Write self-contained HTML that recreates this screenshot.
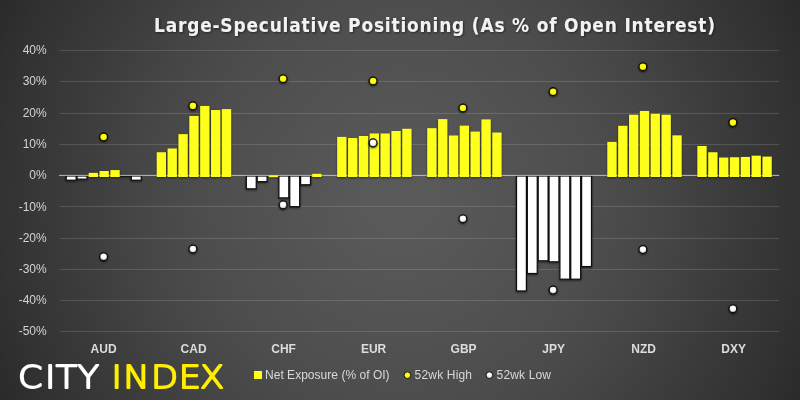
<!DOCTYPE html>
<html lang="en"><head><meta charset="utf-8"><title>Large-Speculative Positioning</title>
<style>
html,body{margin:0;padding:0;background:#2a2a2a;}
body{width:800px;height:400px;overflow:hidden;}
svg{display:block;}
text{font-family:"Liberation Sans","DejaVu Sans",sans-serif;}
.ax{font-size:12px;fill:#d4d4d4;}
.cat{font-size:12px;font-weight:bold;fill:#dcdcdc;}
.lg{font-size:12px;fill:#d9d9d9;}
.ttl{font-family:"DejaVu Sans Condensed","DejaVu Sans","Liberation Sans",sans-serif;font-weight:bold;font-size:18.9px;fill:#f2f2f2;}
.logo{font-family:"DejaVu Sans Light","DejaVu Sans","Liberation Sans",sans-serif;font-weight:200;font-size:32.6px;stroke-linejoin:round;stroke-linecap:round;}
</style></head><body>
<svg width="800" height="400" viewBox="0 0 800 400">
<defs>
<radialGradient id="bg" gradientUnits="userSpaceOnUse" cx="400" cy="200" r="447.2">
<stop offset="0" stop-color="#595959"/>
<stop offset="0.08" stop-color="#595959"/>
<stop offset="0.447" stop-color="#4d4d4d"/>
<stop offset="0.58" stop-color="#464646"/>
<stop offset="0.76" stop-color="#3a3a3a"/>
<stop offset="0.895" stop-color="#323232"/>
<stop offset="1" stop-color="#2a2a2a"/>
</radialGradient>
<radialGradient id="wd" cx="0.5" cy="0.42" r="0.55">
<stop offset="0" stop-color="#ffffff"/><stop offset="0.45" stop-color="#ffffff"/><stop offset="1" stop-color="#b4b4b4"/>
</radialGradient>
<radialGradient id="yd" cx="0.5" cy="0.45" r="0.55">
<stop offset="0" stop-color="#ffff40"/><stop offset="0.5" stop-color="#fbfb10"/><stop offset="1" stop-color="#cfcf00"/>
</radialGradient>
<filter id="sh" x="-20%" y="-20%" width="140%" height="140%">
<feGaussianBlur in="SourceAlpha" stdDeviation="1"/>
<feOffset dx="0.4" dy="0.6"/>
<feComponentTransfer><feFuncA type="linear" slope="0.55"/></feComponentTransfer>
<feMerge><feMergeNode/><feMergeNode in="SourceGraphic"/></feMerge>
</filter>
<filter id="tsh" x="-5%" y="-30%" width="110%" height="160%">
<feGaussianBlur in="SourceAlpha" stdDeviation="0.9"/>
<feOffset dx="0.5" dy="0.8"/>
<feComponentTransfer><feFuncA type="linear" slope="0.5"/></feComponentTransfer>
<feMerge><feMergeNode/><feMergeNode in="SourceGraphic"/></feMerge>
</filter>
</defs>
<rect width="800" height="400" fill="url(#bg)"/>

<g stroke="#ffffff" stroke-opacity="0.15" stroke-width="1">
<line x1="59.3" y1="331.45" x2="779.2" y2="331.45"/>
<line x1="59.3" y1="300.45" x2="779.2" y2="300.45"/>
<line x1="59.3" y1="269.45" x2="779.2" y2="269.45"/>
<line x1="59.3" y1="238.45" x2="779.2" y2="238.45"/>
<line x1="59.3" y1="206.45" x2="779.2" y2="206.45"/>
<line x1="59.3" y1="144.45" x2="779.2" y2="144.45"/>
<line x1="59.3" y1="113.45" x2="779.2" y2="113.45"/>
<line x1="59.3" y1="81.45" x2="779.2" y2="81.45"/>
<line x1="59.3" y1="50.45" x2="779.2" y2="50.45"/>
</g>
<g filter="url(#sh)" fill="#ffffff" stroke="#111111" stroke-width="1.25">
<rect x="66.25" y="176.00" width="9.90" height="4.23"/>
<rect x="77.10" y="176.00" width="9.90" height="3.14"/>
<rect x="120.50" y="176.00" width="9.90" height="0.33"/>
<rect x="131.35" y="176.00" width="9.90" height="4.23"/>
<rect x="246.35" y="176.00" width="9.90" height="12.83"/>
<rect x="257.20" y="176.00" width="9.90" height="5.64"/>
<rect x="278.90" y="176.00" width="9.90" height="21.90"/>
<rect x="289.75" y="176.00" width="9.90" height="30.66"/>
<rect x="300.60" y="176.00" width="9.90" height="8.77"/>
<rect x="516.50" y="176.00" width="9.90" height="114.96"/>
<rect x="527.35" y="176.00" width="9.90" height="97.51"/>
<rect x="538.20" y="176.00" width="9.90" height="84.82"/>
<rect x="549.05" y="176.00" width="9.90" height="85.82"/>
<rect x="559.90" y="176.00" width="9.90" height="103.20"/>
<rect x="570.75" y="176.00" width="9.90" height="103.20"/>
<rect x="581.60" y="176.00" width="9.90" height="90.57"/>
</g>
<line x1="59.0" y1="175.40" x2="779.2" y2="175.40" stroke="#c8c8c8" stroke-width="0.9"/>
<g filter="url(#sh)" fill="#ffff1e">
<rect x="88.75" y="172.90" width="9.2" height="4.10"/>
<rect x="99.60" y="171.02" width="9.2" height="5.98"/>
<rect x="110.45" y="170.08" width="9.2" height="6.92"/>
<rect x="156.80" y="152.26" width="9.2" height="24.74"/>
<rect x="167.65" y="148.51" width="9.2" height="28.49"/>
<rect x="178.50" y="134.12" width="9.2" height="42.88"/>
<rect x="189.35" y="115.99" width="9.2" height="61.01"/>
<rect x="200.20" y="105.98" width="9.2" height="71.02"/>
<rect x="211.05" y="110.05" width="9.2" height="66.95"/>
<rect x="221.90" y="109.11" width="9.2" height="67.89"/>
<rect x="268.85" y="175.40" width="9.2" height="1.65"/>
<rect x="312.25" y="173.84" width="9.2" height="3.16"/>
<rect x="337.20" y="136.94" width="9.2" height="40.06"/>
<rect x="348.05" y="138.03" width="9.2" height="38.97"/>
<rect x="358.90" y="136.00" width="9.2" height="41.00"/>
<rect x="369.75" y="133.50" width="9.2" height="43.50"/>
<rect x="380.60" y="133.50" width="9.2" height="43.50"/>
<rect x="391.45" y="131.00" width="9.2" height="46.00"/>
<rect x="402.30" y="128.81" width="9.2" height="48.19"/>
<rect x="427.25" y="128.18" width="9.2" height="48.82"/>
<rect x="438.10" y="119.11" width="9.2" height="57.89"/>
<rect x="448.95" y="135.53" width="9.2" height="41.47"/>
<rect x="459.80" y="125.68" width="9.2" height="51.32"/>
<rect x="470.65" y="131.62" width="9.2" height="45.38"/>
<rect x="481.50" y="119.43" width="9.2" height="57.57"/>
<rect x="492.35" y="132.56" width="9.2" height="44.44"/>
<rect x="607.35" y="141.94" width="9.2" height="35.06"/>
<rect x="618.20" y="125.84" width="9.2" height="51.16"/>
<rect x="629.05" y="114.74" width="9.2" height="62.26"/>
<rect x="639.90" y="110.98" width="9.2" height="66.02"/>
<rect x="650.75" y="113.80" width="9.2" height="63.20"/>
<rect x="661.60" y="114.74" width="9.2" height="62.26"/>
<rect x="672.45" y="135.37" width="9.2" height="41.63"/>
<rect x="697.40" y="146.01" width="9.2" height="30.99"/>
<rect x="708.25" y="152.26" width="9.2" height="24.74"/>
<rect x="719.10" y="157.58" width="9.2" height="19.42"/>
<rect x="729.95" y="157.26" width="9.2" height="19.74"/>
<rect x="740.80" y="156.95" width="9.2" height="20.05"/>
<rect x="751.65" y="155.70" width="9.2" height="21.30"/>
<rect x="762.50" y="156.64" width="9.2" height="20.36"/>
</g>
<g filter="url(#sh)">
<circle cx="103.6" cy="137.0" r="3.95" fill="url(#yd)" stroke="#0c0c06" stroke-width="1.3"/>
<circle cx="192.9" cy="105.9" r="3.95" fill="url(#yd)" stroke="#0c0c06" stroke-width="1.3"/>
<circle cx="283.1" cy="78.75" r="3.95" fill="url(#yd)" stroke="#0c0c06" stroke-width="1.3"/>
<circle cx="373.1" cy="81.0" r="3.95" fill="url(#yd)" stroke="#0c0c06" stroke-width="1.3"/>
<circle cx="462.9" cy="108.0" r="3.95" fill="url(#yd)" stroke="#0c0c06" stroke-width="1.3"/>
<circle cx="553.1" cy="91.7" r="3.95" fill="url(#yd)" stroke="#0c0c06" stroke-width="1.3"/>
<circle cx="642.9" cy="66.8" r="3.95" fill="url(#yd)" stroke="#0c0c06" stroke-width="1.3"/>
<circle cx="732.9" cy="122.6" r="3.95" fill="url(#yd)" stroke="#0c0c06" stroke-width="1.3"/>
<circle cx="103.6" cy="256.8" r="3.95" fill="url(#wd)" stroke="#0e0e0e" stroke-width="1.3"/>
<circle cx="192.9" cy="249.0" r="3.95" fill="url(#wd)" stroke="#0e0e0e" stroke-width="1.3"/>
<circle cx="283.1" cy="204.9" r="3.95" fill="url(#wd)" stroke="#0e0e0e" stroke-width="1.3"/>
<circle cx="373.1" cy="142.9" r="3.95" fill="url(#wd)" stroke="#0e0e0e" stroke-width="1.3"/>
<circle cx="462.9" cy="218.8" r="3.95" fill="url(#wd)" stroke="#0e0e0e" stroke-width="1.3"/>
<circle cx="553.1" cy="290.1" r="3.95" fill="url(#wd)" stroke="#0e0e0e" stroke-width="1.3"/>
<circle cx="642.9" cy="249.6" r="3.95" fill="url(#wd)" stroke="#0e0e0e" stroke-width="1.3"/>
<circle cx="732.9" cy="308.8" r="3.95" fill="url(#wd)" stroke="#0e0e0e" stroke-width="1.3"/>
</g>
<text class="ax" x="46.7" y="53.60" text-anchor="end">40%</text>
<text class="ax" x="46.7" y="84.80" text-anchor="end">30%</text>
<text class="ax" x="46.7" y="116.60" text-anchor="end">20%</text>
<text class="ax" x="46.7" y="147.80" text-anchor="end">10%</text>
<text class="ax" x="46.7" y="178.80" text-anchor="end">0%</text>
<text class="ax" x="46.7" y="210.50" text-anchor="end">-10%</text>
<text class="ax" x="46.7" y="241.80" text-anchor="end">-20%</text>
<text class="ax" x="46.7" y="273.00" text-anchor="end">-30%</text>
<text class="ax" x="46.7" y="303.60" text-anchor="end">-40%</text>
<text class="ax" x="46.7" y="335.40" text-anchor="end">-50%</text>
<text class="cat" x="103.6" y="352.8" text-anchor="middle">AUD</text>
<text class="cat" x="193.6" y="352.8" text-anchor="middle">CAD</text>
<text class="cat" x="283.6" y="352.8" text-anchor="middle">CHF</text>
<text class="cat" x="373.6" y="352.8" text-anchor="middle">EUR</text>
<text class="cat" x="463.6" y="352.8" text-anchor="middle">GBP</text>
<text class="cat" x="553.6" y="352.8" text-anchor="middle">JPY</text>
<text class="cat" x="643.6" y="352.8" text-anchor="middle">NZD</text>
<text class="cat" x="733.6" y="352.8" text-anchor="middle">DXY</text>
<text class="ttl" x="434.5" y="31.8" text-anchor="middle" textLength="561" lengthAdjust="spacing" filter="url(#tsh)">Large-Speculative Positioning (As % of Open Interest)</text>
<rect x="254" y="371" width="8" height="8" fill="#ffff1e"/>
<text class="lg" x="265" y="379" textLength="124.6" lengthAdjust="spacing">Net Exposure (% of OI)</text>
<circle cx="407.4" cy="375.2" r="3.4" fill="url(#yd)" stroke="#1a1a00" stroke-width="1"/>
<text class="lg" x="414.6" y="379" textLength="57.4" lengthAdjust="spacing">52wk High</text>
<circle cx="489.4" cy="375.2" r="3.4" fill="url(#wd)" stroke="#141414" stroke-width="1"/>
<text class="lg" x="496.6" y="379" textLength="54.4" lengthAdjust="spacing">52wk Low</text>
<text class="logo" transform="scale(1.08,1)" y="388.4" fill="#ffffff" stroke="#ffffff" stroke-width="1.9" x="16.62 41.62 51.57 71.71">CITY</text>
<text class="logo" transform="scale(1.08,1)" y="388.4" fill="#ffee00" stroke="#ffee00" stroke-width="1.9" x="103.15 114.07 139.91 165.42 185.23">INDEX</text>
</svg>
</body></html>
